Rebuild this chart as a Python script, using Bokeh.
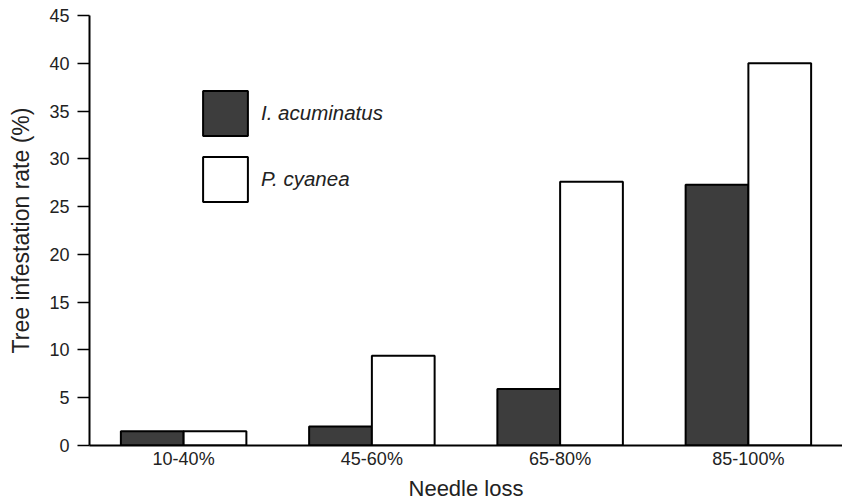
from bokeh.plotting import figure
from bokeh.models import ColumnDataSource, FactorRange, Range1d, FixedTicker, Legend, LegendItem
from bokeh.transform import dodge
from bokeh.embed import file_html
from bokeh.resources import INLINE

categories = ["10-40%", "45-60%", "65-80%", "85-100%"]
i_acuminatus = [1.5, 2.0, 5.9, 27.3]
p_cyanea = [1.5, 9.4, 27.6, 40.0]
y_ticks = [0, 5, 10, 15, 20, 25, 30, 35, 40, 45]

src = ColumnDataSource(dict(cat=categories, ia=i_acuminatus, pc=p_cyanea))

FONT = "Liberation Sans"

p = figure(width=842, height=504, x_range=FactorRange(*categories, range_padding=0),
           y_range=Range1d(0, 45), output_backend="svg", toolbar_location=None,
           min_border_left=89, min_border_right=0, min_border_top=15, min_border_bottom=59)

r1 = p.vbar(x=dodge("cat", -1/6, range=p.x_range), top="ia", width=1/3, source=src,
            fill_color="#3d3d3d", line_color="black", line_width=2)
r2 = p.vbar(x=dodge("cat", 1/6, range=p.x_range), top="pc", width=1/3, source=src,
            fill_color="white", line_color="black", line_width=2)

p.outline_line_color = None
p.xgrid.grid_line_color = None
p.ygrid.grid_line_color = None
p.background_fill_color = "white"
p.border_fill_color = "white"

# y axis
p.yaxis.ticker = FixedTicker(ticks=y_ticks)
p.yaxis.minor_tick_line_color = None
p.yaxis.major_tick_out = 12
p.yaxis.major_tick_in = 0
p.yaxis.major_tick_line_width = 1.5
p.yaxis.axis_line_width = 2
p.yaxis.major_label_text_font = FONT
p.yaxis.major_label_text_font_size = "18px"
p.yaxis.major_label_text_color = "#222222"
p.yaxis.major_label_standoff = 8
p.yaxis.axis_label = "Tree infestation rate (%)"
p.yaxis.axis_label_text_font = FONT
p.yaxis.axis_label_text_font_size = "23px"
p.yaxis.axis_label_text_font_style = "normal"
p.yaxis.axis_label_text_color = "#222222"
p.yaxis.axis_label_standoff = 12

# x axis
p.xaxis.major_tick_line_color = None
p.xaxis.minor_tick_line_color = None
p.xaxis.axis_line_width = 2
p.xaxis.major_label_text_font = FONT
p.xaxis.major_label_text_font_size = "18px"
p.xaxis.major_label_text_color = "#222222"
p.xaxis.major_label_standoff = -3
p.xaxis.axis_label = "Needle loss"
p.xaxis.axis_label_text_font = FONT
p.xaxis.axis_label_text_font_size = "22px"
p.xaxis.axis_label_text_font_style = "normal"
p.xaxis.axis_label_text_color = "#222222"
p.xaxis.axis_label_standoff = 4

legend = Legend(items=[LegendItem(label="I. acuminatus", renderers=[r1]),
                       LegendItem(label="P. cyanea", renderers=[r2])],
                location=(108, 238), glyph_width=56, glyph_height=56, spacing=10,
                label_standoff=8, padding=0, margin=0,
                border_line_color=None, background_fill_alpha=0,
                label_text_font=FONT, label_text_font_size="20.5px",
                label_text_font_style="italic", label_text_color="#222222")
p.add_layout(legend)

open("out.html", "w").write(file_html(p, INLINE))
